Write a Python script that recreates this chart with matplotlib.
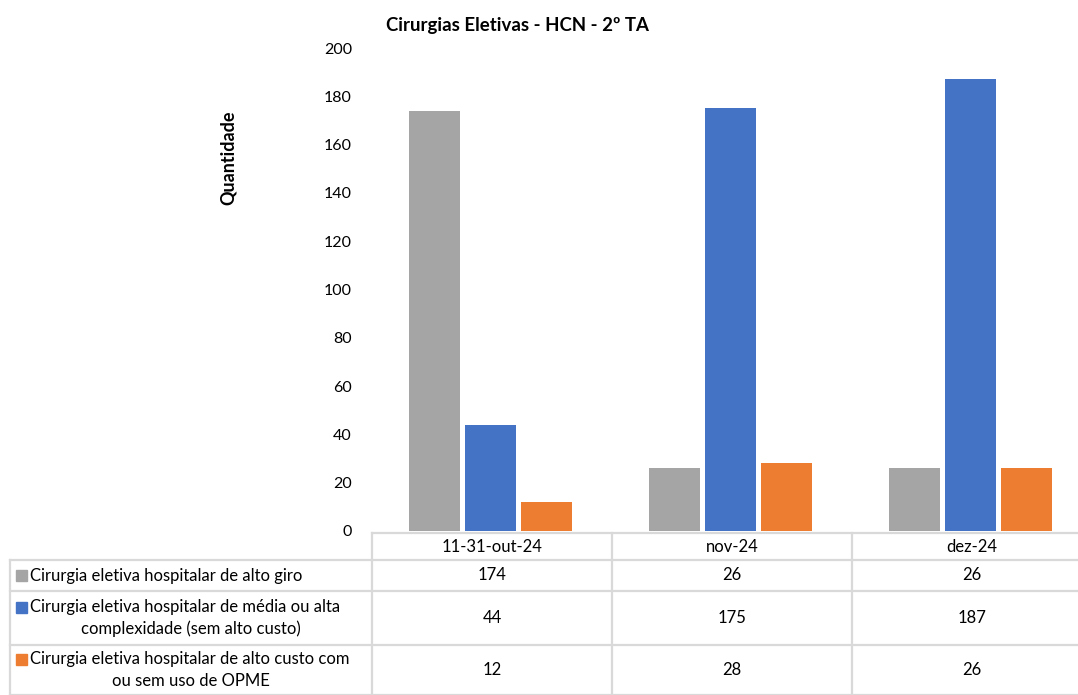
import numpy as np
import matplotlib
matplotlib.use("Agg")
from matplotlib import pyplot as plt

plt.rcParams['font.family'] = ['Lato', 'DejaVu Sans']

categories = ['11-31-out-24', 'nov-24', 'dez-24']
series_names = [
    'Cirurgia eletiva hospitalar de alto giro',
    'Cirurgia eletiva hospitalar de média ou alta\ncomplexidade (sem alto custo)',
    'Cirurgia eletiva hospitalar de alto custo com\nou sem uso de OPME',
]
alto_giro = [174, 26, 26]
media_alta = [44, 175, 187]
alto_custo = [12, 28, 26]
yticks = [0, 20, 40, 60, 80, 100, 120, 140, 160, 180, 200]

colors = ['#A5A5A5', '#4472C4', '#ED7D31']
values = [alto_giro, media_alta, alto_custo]

W, H = 1078, 695
fig = plt.figure(figsize=(W / 100, H / 100), dpi=100)

# main plot area, in pixel coords
x0, x1 = 372, 1092
ytop, ybot = 48, 531
ax = fig.add_axes([x0 / W, 1 - ybot / H, (x1 - x0) / W, (ybot - ytop) / H])

x = np.arange(len(categories))
bw = 0.2125
gap = 5 / 240
for i, (vals, c) in enumerate(zip(values, colors)):
    ax.bar(x - 2 / 240 + (i - 1) * (bw + gap), vals, width=bw, color=c)

ax.set_xlim(-0.5, 2.5)
ax.set_ylim(0, 200)
ax.set_yticks(yticks)
ax.set_xticks([])
ax.tick_params(axis='y', length=0, pad=14.5, labelsize=11.5)
for s in ax.spines.values():
    s.set_visible(False)

fig.text(517 / W, 1 - 25 / H, 'Cirurgias Eletivas - HCN - 2º TA',
         ha='center', va='center', fontsize=13.4, fontweight='bold')
fig.text(228 / W, 1 - 158 / H, 'Quantidade', rotation=90,
         ha='center', va='center', fontsize=13, fontweight='bold')

# data table drawn in pixel space
tab = fig.add_axes([0, 0, 1, 1])
tab.set_xlim(0, W)
tab.set_ylim(H, 0)
tab.axis('off')

grid = '#D9D9D9'
lw = 1.6
col_edges = [372, 612, 852, 1092]
row_edges = [533, 560, 591, 645, 695]

tab.plot([372, W], [533, 533], color=grid, lw=lw)
for yy in row_edges[1:]:
    tab.plot([10, W], [yy, yy], color=grid, lw=lw)
tab.plot([10, 10], [560, 695], color=grid, lw=lw)
for xx in col_edges[:3]:
    tab.plot([xx, xx], [533, 695], color=grid, lw=lw)

fs = 12
for j, cat in enumerate(categories):
    cx = (col_edges[j] + col_edges[j + 1]) / 2
    tab.text(cx, 547, cat, ha='center', va='center', fontsize=fs)
    for r in range(3):
        cy = (row_edges[r + 1] + row_edges[r + 2]) / 2
        tab.text(cx, cy, str(values[r][j]), ha='center', va='center', fontsize=fs)

for r, (name, c) in enumerate(zip(series_names, colors)):
    lines = name.split('\n')
    top, bot = row_edges[r + 1], row_edges[r + 2]
    if len(lines) == 1:
        ys = [(top + bot) / 2]
    else:
        ys = [(top + bot) / 2 - 11, (top + bot) / 2 + 11]
    tab.add_patch(plt.Rectangle((16, ys[0] - 5.5), 11, 11, color=c))
    if len(lines) == 1:
        tab.text(30, ys[0], lines[0], ha='left', va='center', fontsize=fs)
    else:
        tab.text(30, ys[0], lines[0], ha='left', va='center', fontsize=fs)
        tab.text(191, ys[1], lines[1], ha='center', va='center', fontsize=fs)

fig.savefig('out.png', dpi=100)
